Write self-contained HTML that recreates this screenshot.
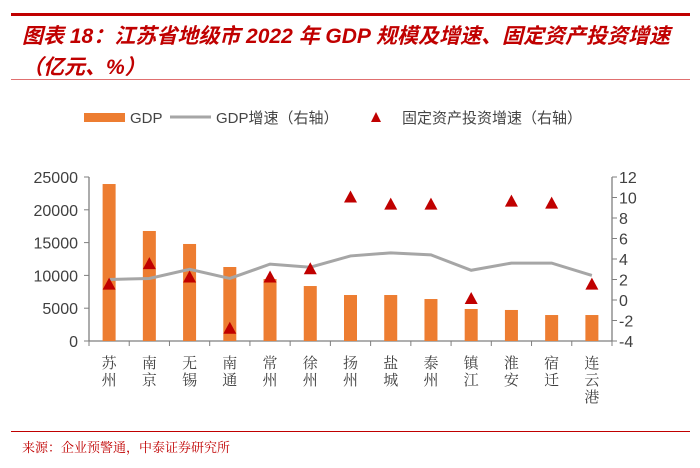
<!DOCTYPE html>
<html><head><meta charset="utf-8"><style>
body{margin:0;width:700px;height:468px;background:#fff;overflow:hidden;position:relative;font-family:"Liberation Sans","Noto Sans CJK SC",sans-serif}
.t{position:absolute;left:22px;color:#c00000;font-weight:bold;font-style:italic;font-size:21px;white-space:nowrap}
</style></head><body>
<div style="position:absolute;left:11px;top:13px;width:679px;height:3px;background:#c00000"></div>
<div class="t" style="top:20px">图表 18：江苏省地级市 2022 年 GDP 规模及增速、固定资产投资增速</div>
<div class="t" style="top:51px">（亿元、%）</div>
<div style="position:absolute;left:11px;top:79px;width:679px;height:1px;background:#e07070"></div>
<svg id="c" width="700" height="468" style="position:absolute;left:0;top:0" font-family="Liberation Sans, Noto Sans CJK SC, sans-serif"></svg>
<div style="position:absolute;left:11px;top:431px;width:679px;height:1px;background:#c00000"></div>
<div style="position:absolute;left:22px;top:437px;font-size:13px;color:#c00000;font-family:'Liberation Serif','Noto Serif CJK SC',serif">来源：企业预警通，中泰证券研究所</div>
<script>
const categories=["苏州","南京","无锡","南通","常州","徐州","扬州","盐城","泰州","镇江","淮安","宿迁","连云港"];
const gdp=[23930,16770,14790,11280,9450,8380,7010,7010,6400,4880,4730,3960,3960];
const gdpGrowth=[2.0,2.1,3.0,2.1,3.5,3.2,4.3,4.6,4.4,2.9,3.6,3.6,2.4];
const fai=[1.5,3.5,2.2,-2.8,2.2,3.0,10.0,9.3,9.3,0.1,9.6,9.4,1.5];
const leftTicks=[0,5000,10000,15000,20000,25000];
const rightTicks=[-4,-2,0,2,4,6,8,10,12];
const NS="http://www.w3.org/2000/svg",svg=document.getElementById('c');
const x0=89,x1=612,yb=341,yt=177;
const bw=(x1-x0)/categories.length;
const xc=i=>x0+bw*(i+0.5);
const yL=v=>yb-(v/25000)*(yb-yt);
const yR=v=>yb-((v+4)/16)*(yb-yt);
function mk(t,a,p){const e=document.createElementNS(NS,t);for(const k in a)e.setAttribute(k,a[k]);(p||svg).appendChild(e);return e;}
// legend
let e=mk('rect',{x:84,y:113,width:41,height:9,fill:'#ed7d31'});

e=mk('text',{x:130,y:123,'font-size':15,fill:'#444'});e.textContent='GDP';

e=mk('line',{x1:170,y1:117,x2:211,y2:117,stroke:'#a6a6a6','stroke-width':3});

e=mk('text',{x:216,y:123,'font-size':15,fill:'#444'});e.textContent='GDP增速（右轴）';

e=mk('polygon',{points:'376,112 381,122 371,122',fill:'#c00000'});

e=mk('text',{x:402,y:123,'font-size':15,fill:'#444'});e.textContent='固定资产投资增速（右轴）';

// axes
e=mk('line',{x1:x0,y1:yt,x2:x0,y2:yb,stroke:'#7f7f7f','stroke-width':1.3});

e=mk('line',{x1:x1,y1:yt,x2:x1,y2:yb,stroke:'#7f7f7f','stroke-width':1.3});

e=mk('line',{x1:x0,y1:yb,x2:x1,y2:yb,stroke:'#7f7f7f','stroke-width':1.3});

leftTicks.forEach(v=>{const y=yL(v);mk('line',{x1:x0-5,y1:y,x2:x0,y2:y,stroke:'#7f7f7f'});
 const t=mk('text',{x:x0-11,y:y+6,'font-size':16,fill:'#404040','text-anchor':'end'});t.textContent=v;
 });
rightTicks.forEach(v=>{const y=yR(v);mk('line',{x1:x1,y1:y,x2:x1+5,y2:y,stroke:'#7f7f7f'});
 const t=mk('text',{x:x1+7,y:y+6,'font-size':16,fill:'#404040'});t.textContent=v;
 });
for(let i=0;i<=categories.length;i++){mk('line',{x1:x0+bw*i,y1:yb,x2:x0+bw*i,y2:yb+5,stroke:'#7f7f7f'});}
categories.forEach((c,i)=>{[...c].forEach((ch,j)=>{const t=mk('text',{x:xc(i),y:yb+27+j*17,'font-size':15,fill:'#404040','text-anchor':'middle','font-family':'Noto Serif CJK SC, serif'});t.textContent=ch;
 });});
// bars
gdp.forEach((v,i)=>{const b=mk('rect',{x:xc(i)-6.5,y:yL(v),width:13,height:yb-yL(v),fill:'#ed7d31'});
 });
// line
const l=mk('polyline',{points:gdpGrowth.map((v,i)=>xc(i)+','+yR(v)).join(' '),fill:'none',stroke:'#a6a6a6','stroke-width':3});

// triangles
fai.forEach((v,i)=>{const x=xc(i),y=yR(v);const p=mk('polygon',{points:`${x},${y-7} ${x+6.5},${y+5} ${x-6.5},${y+5}`,fill:'#c00000'});
 });
</script>
</body></html>
